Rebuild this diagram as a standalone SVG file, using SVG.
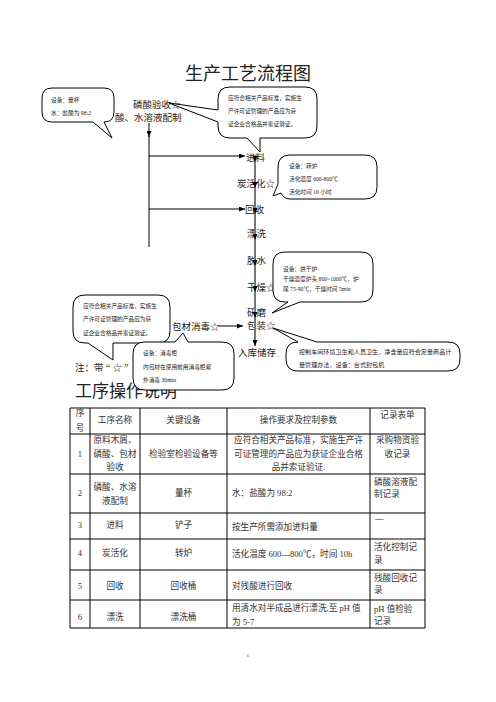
<svg xmlns="http://www.w3.org/2000/svg" width="496" height="702" viewBox="0 0 496 702">
<style>
text{font-family:"Liberation Serif","Noto Sans CJK SC",serif;fill:#222}
.t{font-size:18px}
.h{font-size:17px}
.lb{font-size:9.5px}
.cs{font-size:5.7px}
.tb{font-size:8.6px;fill:#333}
.c{text-anchor:middle}
.co{fill:#fff;stroke:#000;stroke-width:1}
.ml{stroke:#777;stroke-width:2;fill:none}
.tl{stroke:#000;stroke-width:1;fill:none}
.grid line{stroke:#000;stroke-width:1}
</style>
<defs>
<marker id="ah" markerUnits="userSpaceOnUse" markerWidth="6" markerHeight="5" refX="6" refY="2.5" orient="auto">
<path d="M0,0 L6,2.5 L0,5 Z" fill="#000"/>
</marker>
</defs>
<rect width="496" height="702" fill="#fff"/>
<text class="t" x="185" y="80">生产工艺流程图</text>

<g id="flow-labels">
<g id="n-linsuan"><text class="lb" x="133" y="108">磷酸验收☆</text></g>
<g id="n-peizhi"><text class="lb" x="115" y="121">酸、水溶液配制</text></g>
<g id="n-jinliao"><text class="lb" x="246" y="160.5">进料</text></g>
<g id="n-tanhuohua"><text class="lb" x="237" y="186.5">炭活化☆</text></g>
<g id="n-huishou"><text class="lb" x="245" y="212.5">回收</text></g>
<g id="n-piaoxi"><text class="lb" x="247" y="237">漂洗</text></g>
<g id="n-tuoshui"><text class="lb" x="247" y="263.5">脱水</text></g>
<g id="n-ganzao"><text class="lb" x="247" y="290.5">干燥☆</text></g>
<g id="n-yanmo"><text class="lb" x="247" y="315.5">研磨</text></g>
<g id="n-baozhuang"><text class="lb" x="247" y="328.5">包装☆</text></g>
<g id="n-ruku"><text class="lb" x="238" y="355.5">入库储存</text></g>
<g id="n-baocai"><text class="lb" x="172" y="330">包材消毒☆</text></g>
<g id="n-note"><text class="lb" x="75" y="370.5">注：带 “ ☆ ”</text></g>
</g>

<g id="connectors">
<line class="tl" x1="149" y1="123" x2="149" y2="137" marker-end="url(#ah)"/>
<line class="tl" x1="149" y1="136" x2="149" y2="247"/>
<line class="tl" x1="149" y1="156" x2="245" y2="156" marker-end="url(#ah)"/>
<line class="tl" x1="149" y1="209" x2="245" y2="209" marker-end="url(#ah)"/>
<line class="tl" x1="218" y1="326" x2="243" y2="326" marker-end="url(#ah)"/>
<line class="ml" x1="255" y1="155" x2="255" y2="162" marker-end="url(#ah)"/>
<line class="ml" x1="255" y1="162" x2="255" y2="188" marker-end="url(#ah)"/>
<line class="ml" x1="255" y1="188" x2="255" y2="214" marker-end="url(#ah)"/>
<line class="ml" x1="255" y1="214" x2="255" y2="240" marker-end="url(#ah)"/>
<line class="ml" x1="255" y1="240" x2="255" y2="266" marker-end="url(#ah)"/>
<line class="ml" x1="255" y1="266" x2="255" y2="292" marker-end="url(#ah)"/>
<line class="ml" x1="255" y1="292" x2="255" y2="318" marker-end="url(#ah)"/>
<line class="ml" x1="255" y1="318" x2="255" y2="346" marker-end="url(#ah)"/>
</g>

<text class="h" x="75" y="397">工序操作说明</text>

<g id="callout-liangbei">
<path class="co" d="M52,88 H104 Q114,88 114,98 V112 Q114,122 104,122 L112,138 L93,122 H52 Q42,122 42,112 V98 Q42,88 52,88 Z"/>
<text class="cs" x="51" y="102">设备：量杯</text>
<text class="cs" x="51" y="115">水：盐酸为 98:2</text>
</g>

<g id="callout-yanshou">
<path class="co" d="M230,87 H305 Q317,87 317,99 V126 Q317,138 305,138 H260 L260,152 L247,138 H230 Q218,138 218,126 V122 L169,103 L218,110 V99 Q218,87 230,87 Z"/>
<text class="cs" x="228" y="99.5">应符合相关产品标准，实施生</text>
<text class="cs" x="228" y="113">产许可证管理的产品应为获</text>
<text class="cs" x="228" y="126">证企业合格品并索证验证。</text>
</g>

<g id="callout-zhuanlu">
<path class="co" d="M290,155 H365 Q377,155 377,167 V187 Q377,199 365,199 H290 Q284,199 281,193 L273,196 L278,184 V167 Q278,155 290,155 Z"/>
<text class="cs" x="289" y="168">设备：转炉</text>
<text class="cs" x="289" y="181">活化温度 600-800℃</text>
<text class="cs" x="289" y="194">活化时间 10 小时</text>
</g>

<g id="callout-hongganlu">
<path class="co" d="M285,252 H361 Q373,252 373,264 V290 Q373,302 361,302 H300 L272,313 L288,302 H285 Q273,302 273,290 V264 Q273,252 285,252 Z"/>
<text class="cs" x="283" y="271">设备：烘干炉</text>
<text class="cs" x="283" y="281">干燥温度炉头 800~1000℃，炉</text>
<text class="cs" x="283" y="291">尾 75-90℃，干燥时间 5min</text>
</g>

<g id="callout-baocai">
<path class="co" d="M85,295 H158 Q170,295 170,307 V331 Q170,343 158,343 H113 V360 L88,343 H85 Q73,343 73,331 V307 Q73,295 85,295 Z"/>
<text class="cs" x="83" y="308">应符合相关产品标准，实施生</text>
<text class="cs" x="83" y="321">产许可证管理的产品应为获</text>
<text class="cs" x="83" y="335">证企业合格品并索证验证。</text>
</g>

<g id="callout-xiaodugui">
<path class="co" d="M145,342 H175 L183,333 L188,342 H222 Q234,342 234,354 V378 Q234,390 222,390 H145 Q133,390 133,378 V354 Q133,342 145,342 Z"/>
<text class="cs" x="143" y="355">设备：消毒柜</text>
<text class="cs" x="143" y="369">内包材在使用前用消毒柜紫</text>
<text class="cs" x="143" y="382">外消毒 30min</text>
</g>

<g id="callout-fengbao">
<path class="co" d="M298,342 L273,328 L317,342 H448 Q460,342 460,354 V359 Q460,371 448,371 H298 Q286,371 286,359 V354 Q286,342 298,342 Z"/>
<text class="cs" x="299" y="354" style="font-size:6.1px">控制车间环境卫生和人员卫生，净含量应符合定量商品计</text>
<text class="cs" x="299" y="367" style="font-size:6.1px">量管理办法，设备：台式封包机</text>
</g>

<g id="table">
<g class="grid">
<line x1="70" y1="408" x2="425" y2="408"/>
<line x1="70" y1="434" x2="425" y2="434"/>
<line x1="70" y1="474" x2="425" y2="474"/>
<line x1="70" y1="513" x2="425" y2="513"/>
<line x1="70" y1="539" x2="425" y2="539"/>
<line x1="70" y1="570" x2="425" y2="570"/>
<line x1="70" y1="600" x2="425" y2="600"/>
<line x1="70" y1="628" x2="425" y2="628"/>
<line x1="70" y1="408" x2="70" y2="628"/>
<line x1="90" y1="408" x2="90" y2="628"/>
<line x1="140" y1="408" x2="140" y2="628"/>
<line x1="227" y1="408" x2="227" y2="628"/>
<line x1="370" y1="408" x2="370" y2="628"/>
<line x1="425" y1="408" x2="425" y2="628"/>
</g>
<text class="tb c" x="80" y="416">序</text>
<text class="tb c" x="80" y="431">号</text>
<text class="tb c" x="115" y="423">工序名称</text>
<text class="tb c" x="183.5" y="423">关键设备</text>
<text class="tb c" x="298.5" y="423">操作要求及控制参数</text>
<text class="tb c" x="397.5" y="418">记录表单</text>

<text class="tb c" x="80" y="457">1</text>
<text class="tb c" x="115" y="443">原料木屑、</text>
<text class="tb c" x="115" y="457">磷酸、包材</text>
<text class="tb c" x="115" y="470">验收</text>
<text class="tb c" x="183.5" y="457">检验室检验设备等</text>
<text class="tb c" x="298.5" y="443">应符合相关产品标准，实施生产许</text>
<text class="tb c" x="298.5" y="457">可证管理的产品应为获证企业合格</text>
<text class="tb c" x="298.5" y="470">品并索证验证.</text>
<text class="tb c" x="397.5" y="443">采购物资验</text>
<text class="tb c" x="397.5" y="457">收记录</text>

<text class="tb c" x="80" y="496">2</text>
<text class="tb c" x="115" y="490">磷酸、水溶</text>
<text class="tb c" x="115" y="504">液配制</text>
<text class="tb c" x="183.5" y="496">量杯</text>
<text class="tb" x="232" y="496">水：盐酸为 98:2</text>
<text class="tb" x="374" y="485">磷酸溶液配</text>
<text class="tb" x="374" y="497">制记录</text>

<text class="tb c" x="80" y="528">3</text>
<text class="tb c" x="115" y="528">进料</text>
<text class="tb c" x="183.5" y="528">铲子</text>
<text class="tb" x="232" y="530">按生产所需添加进料量</text>
<text class="tb" x="375" y="521">—</text>

<text class="tb c" x="80" y="556">4</text>
<text class="tb c" x="115" y="556">炭活化</text>
<text class="tb c" x="183.5" y="556">转炉</text>
<text class="tb" x="232" y="557">活化温度 600—800℃，时间 10h</text>
<text class="tb" x="374" y="550">活化控制记</text>
<text class="tb" x="374" y="563">录</text>

<text class="tb c" x="80" y="589">5</text>
<text class="tb c" x="115" y="589">回收</text>
<text class="tb c" x="183.5" y="589">回收桶</text>
<text class="tb" x="232" y="589">对残酸进行回收</text>
<text class="tb" x="374" y="581">残酸回收记</text>
<text class="tb" x="374" y="593">录</text>

<text class="tb c" x="80" y="620">6</text>
<text class="tb c" x="115" y="620">漂洗</text>
<text class="tb c" x="183.5" y="620">漂洗桶</text>
<text class="tb" x="232" y="611">用清水对半成品进行漂洗,至 pH 值</text>
<text class="tb" x="232" y="625">为 5-7</text>
<text class="tb" x="374" y="612">pH 值检验</text>
<text class="tb" x="374" y="624">记录</text>
</g>

<text x="248" y="657" style="font-size:5px;fill:#666" text-anchor="middle">6</text>
</svg>
